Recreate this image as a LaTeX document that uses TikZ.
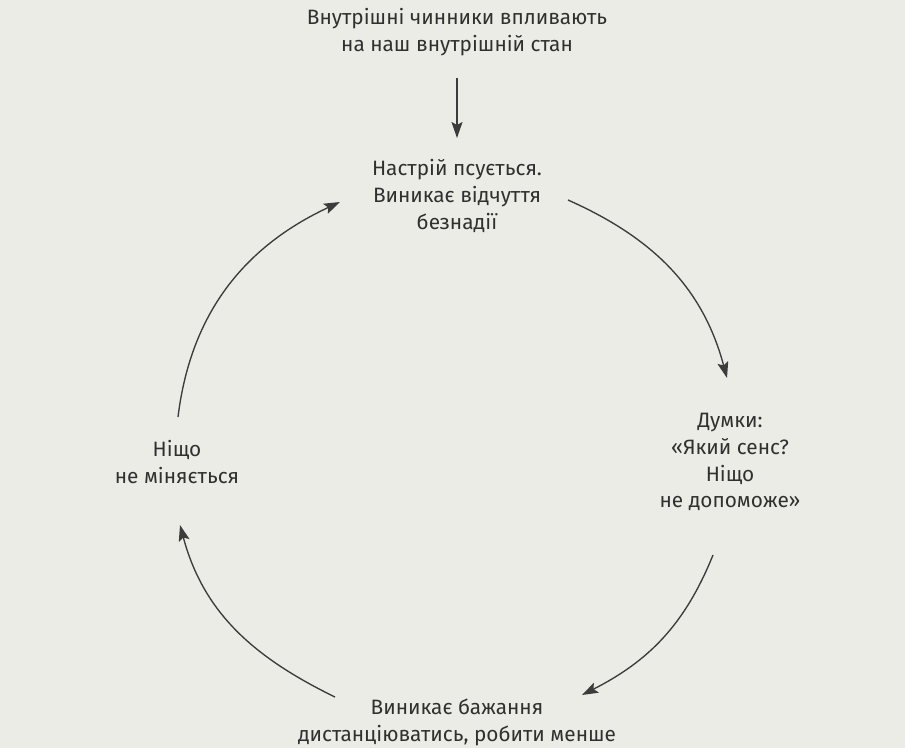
\documentclass[tikz,border=0pt]{standalone}
\usepackage{fontspec}
\setmainfont{Fira Sans}
\usetikzlibrary{arrows.meta}
\definecolor{paper}{RGB}{236,236,230}
\definecolor{ink}{RGB}{48,48,48}
\definecolor{lineink}{RGB}{60,60,60}
\tikzset{
  txt/.style={inner sep=0pt, align=center, text=ink, font=\fontsize{20.8}{26.8}\selectfont},
  arr/.style={draw=lineink, line width=1.35pt, -{Stealth[length=16pt,width=11pt,inset=3pt]}}
}
\begin{document}
\begin{tikzpicture}[x=1pt,y=1pt]
\fill[paper] (0,0) rectangle (905,-748);
\useasboundingbox (0,0) rectangle (905,-748);
\node[txt] (src) at (457,-32) {Внутрішні чинники впливають\\на наш внутрішній стан};
\node[txt] (top) at (457,-196) {Настрій псується.\\Виникає відчуття\\безнадії};
\node[txt] (right) at (730,-462) {Думки:\\«Який сенс?\\Ніщо\\не допоможе»};
\node[txt] (bottom) at (457,-722) {Виникає бажання\\дистанціюватись, робити менше};
\node[txt] (left) at (177,-462) {Ніщо\\не міняється};
\draw[arr] ([yshift=-46pt]src.center) -- ([yshift=58pt]top.center);
\draw[arr] ([shift={(111,-4)}]top.center) to[out=-24,in=105] ([shift={(-3,84)}]right.center);
\draw[arr] ([shift={(-17,-93)}]right.center) to[out=-112,in=27] ([shift={(125,27)}]bottom.center);
\draw[arr] ([shift={(-122,25)}]bottom.center) to[out=154,in=-75] ([shift={(3,-63)}]left.center);
\draw[arr] ([shift={(1,45)}]left.center) to[out=83,in=205] ([shift={(-117,-6)}]top.center);
\end{tikzpicture}
\end{document}
